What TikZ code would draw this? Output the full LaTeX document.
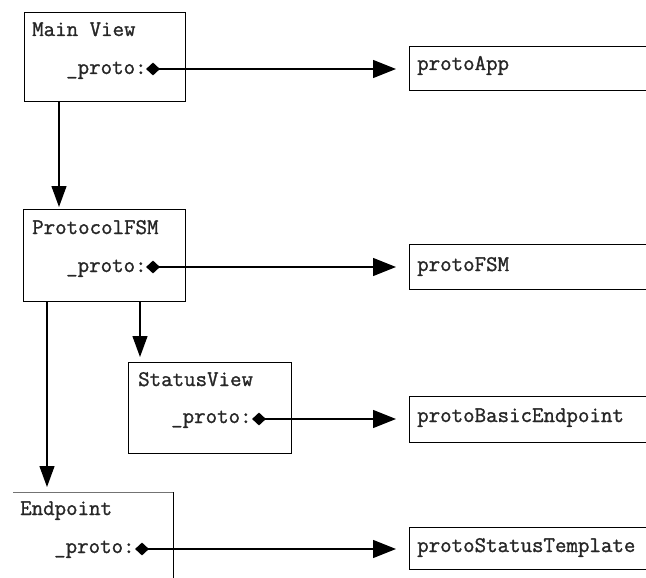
\documentclass[tikz,border=0pt]{standalone}
\usepackage{fontspec}
\setmonofont{Latin Modern Mono}[FakeBold=1.2]
\usetikzlibrary{arrows.meta,shapes.geometric}
\tikzset{
  objbox/.style={draw=black, line width=1.3pt, rectangle, inner sep=0pt, anchor=north west},
  protobox/.style={draw=black, line width=1.3pt, rectangle, inner sep=0pt, anchor=north west, minimum width=260pt},
  lbl/.style={anchor=base west, inner sep=0pt, font=\ttfamily\fontsize{22.3}{24}\selectfont, text=black!85},
  ptr/.style={diamond, fill=black, draw=none, inner sep=0pt, minimum width=14pt, minimum height=13pt},
  harrow/.style={line width=1.3pt, -{Triangle[length=23pt,width=18pt]}, shorten >=13pt},
  varrow/.style={line width=1.3pt, -{Triangle[length=21pt,width=15pt]}},
}
\begin{document}
\begin{tikzpicture}[x=1pt,y=-1pt]
\useasboundingbox (0,0) rectangle (646,578);
\fill[white] (0,0) rectangle (646,578);
\clip (0,0) rectangle (646,578);

% left object boxes
\node[objbox, minimum width=161pt, minimum height=89pt] (mv) at (24,12) {};
\node[objbox, minimum width=162pt, minimum height=92pt] (pf) at (23,209) {};
\node[objbox, minimum width=163pt, minimum height=91pt] (sv) at (128,362) {};
\node[anchor=north west, inner sep=0pt, minimum width=160pt, minimum height=110pt] (ep) at (13,492) {};
\draw[line width=0.9pt, black!55] (ep.north west) -- (ep.north east);
\draw[line width=1.3pt] (ep.north east) -- (ep.south east);

% titles
\node[lbl] (mvt) at (32,36) {Main View};
\node[lbl] (pft) at (32,234) {ProtocolFSM};
\node[lbl] (svt) at (138,386) {StatusView};
\node[lbl] (ept) at (20,515) {Endpoint};

% _proto labels
\node[lbl] (mvp) at (66,74) {\_proto:};
\node[lbl] (pfp) at (66,272) {\_proto:};
\node[lbl] (svp) at (171,423) {\_proto:};
\node[lbl] (epp) at (54,553) {\_proto:};

% pointer dots
\node[ptr] (mvd) at (153,69) {};
\node[ptr] (pfd) at (153,267) {};
\node[ptr] (svd) at (259,419) {};
\node[ptr] (epd) at (142,549) {};

% right proto boxes
\node[protobox, minimum height=44pt] (app) at (409,46) {};
\node[protobox, minimum height=45pt] (fsm) at (409,244) {};
\node[protobox, minimum height=46pt] (bep) at (409,396) {};
\node[protobox, minimum height=42pt] (stt) at (409,527) {};
\node[lbl] (appt) at (417,70) {protoApp};
\node[lbl] (fsmt) at (417,271) {protoFSM};
\node[lbl] (bept) at (417,422) {protoBasicEndpoint};
\node[lbl] (sttt) at (417,552) {protoStatusTemplate};

% horizontal pointer arrows
\draw[harrow] (mvd.center) -- (mvd.center -| app.west);
\draw[harrow] (pfd.center) -- (pfd.center -| fsm.west);
\draw[harrow] (svd.center) -- (svd.center -| bep.west);
\draw[harrow] (epd.center) -- (epd.center -| stt.west);

% vertical containment arrows
\coordinate (c1) at (59,101);
\coordinate (c2) at (47,301);
\coordinate (c3) at (140,301);
\draw[varrow, shorten >=2pt] (c1) -- (c1 |- pf.north);
\draw[varrow, shorten >=5pt] (c3) -- (c3 |- sv.north);
\draw[varrow, shorten >=5pt] (c2) -- (c2 |- ep.north);
\end{tikzpicture}
\end{document}
